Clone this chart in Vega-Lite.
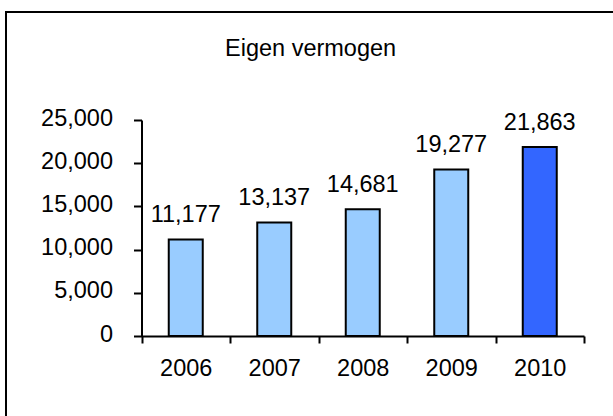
{
  "$schema": "https://vega.github.io/schema/vega-lite/v6.json",
  "autosize": "none",
  "width": 607,
  "height": 404,
  "padding": {"left": 6, "top": 12, "right": 0, "bottom": 0},
  "background": "white",
  "view": {"stroke": "black", "strokeWidth": 2, "strokeDash": [607, 1011, 404], "strokeDashOffset": 0},
  "title": {"text": "Eigen vermogen", "font": "Liberation Sans", "fontSize": 23.5, "fontWeight": "normal", "color": "black", "anchor": "start", "dx": 219, "baseline": "alphabetic", "offset": -67},
  "data": {"values": [
    {"year": "2006", "value": 11177},
    {"year": "2007", "value": 13137},
    {"year": "2008", "value": 14681},
    {"year": "2009", "value": 19277},
    {"year": "2010", "value": 21863}
  ]},
  "config": {
    "axis": {"domainColor": "black", "domainWidth": 2, "tickColor": "black", "tickWidth": 2, "labelFont": "Liberation Sans", "labelFontSize": 23.5, "labelColor": "black", "grid": false, "title": null}
  },
  "encoding": {
    "x": {"field": "year", "type": "ordinal", "sort": null,
      "scale": {"range": [135.5, 578], "paddingInner": 0, "paddingOuter": 0},
      "axis": {"orient": "bottom", "offset": -80, "tickSize": 7, "tickBand": "extent", "labelAngle": 0, "labelPadding": 13}},
    "y": {"field": "value", "type": "quantitative",
      "scale": {"domain": [0, 25000], "range": [324, 108], "nice": false},
      "axis": {"orient": "left", "offset": -135.5, "tickSize": 8, "labelPadding": 21, "labelOffset": -2, "format": ",d", "values": [0, 5000, 10000, 15000, 20000, 25000]}}
  },
  "layer": [
    {"mark": {"type": "bar", "size": 34, "stroke": "black", "strokeWidth": 2},
     "encoding": {"color": {"condition": {"test": "datum.year === '2010'", "value": "#3366FF"}, "value": "#99CCFF"}}},
    {"mark": {"type": "text", "baseline": "alphabetic", "dy": -17, "fontSize": 23.5, "font": "Liberation Sans", "color": "black"},
     "encoding": {"text": {"field": "value", "type": "quantitative", "format": ",d"}}}
  ]
}
